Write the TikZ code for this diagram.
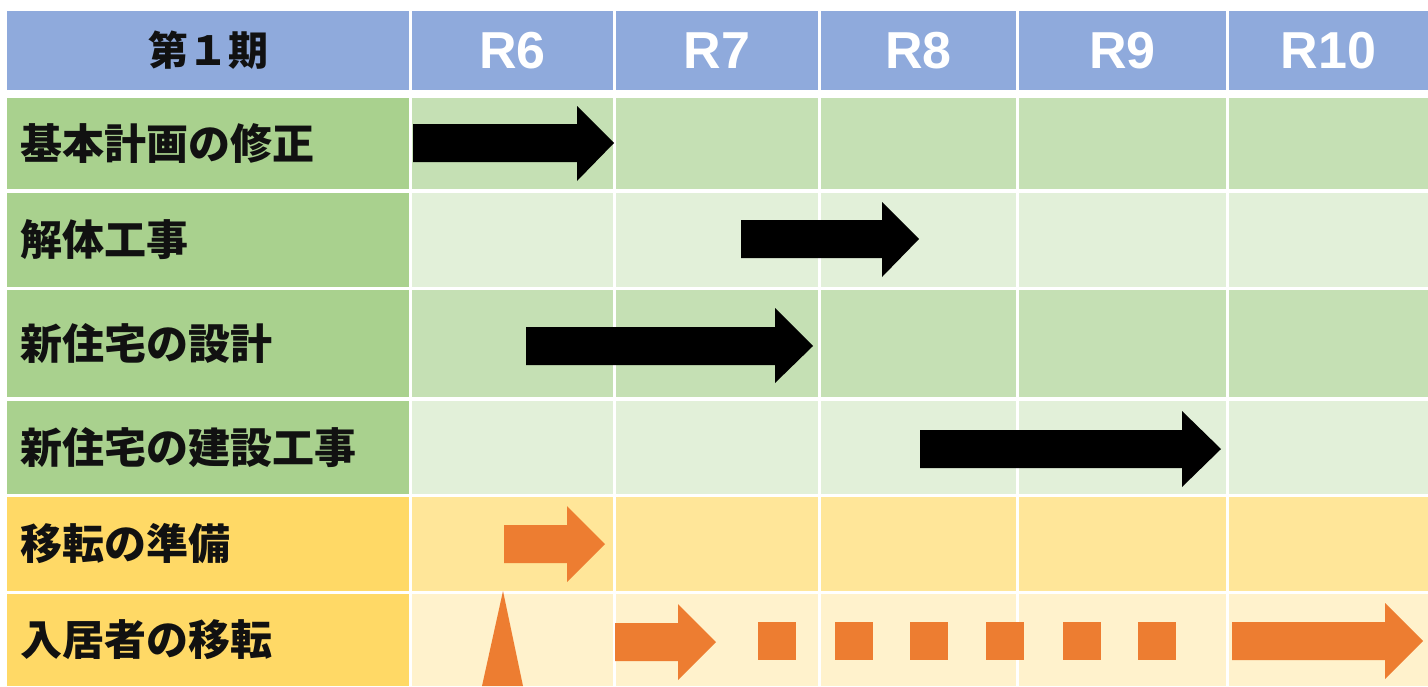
\documentclass[tikz,border=0pt]{standalone}
\usepackage{fontspec}
\setmainfont{Liberation Sans}
\newfontfamily\jp{Noto Sans CJK JP}
\definecolor{hdr}{HTML}{8FAADC}
\definecolor{lg}{HTML}{A9D18E}
\definecolor{gA}{HTML}{C5E0B4}
\definecolor{gB}{HTML}{E2F0D9}
\definecolor{ly}{HTML}{FFD966}
\definecolor{yA}{HTML}{FFE699}
\definecolor{yB}{HTML}{FFF2CC}
\definecolor{org}{HTML}{ED7D31}
\definecolor{txt}{HTML}{111111}
\tikzset{
  hdrtxt/.style={font=\jp\bfseries\fontsize{30pt}{36pt}\selectfont, text=txt, inner sep=0pt},
  yrtxt/.style={font=\bfseries\fontsize{39pt}{46pt}\selectfont, text=white, inner sep=0pt},
  lbltxt/.style={font=\jp\bfseries\fontsize{31.5pt}{38pt}\selectfont, text=txt, inner sep=0pt, anchor=west},
  blkarrow/.style={fill=black},
  orgshape/.style={fill=org}
}
\begin{document}
\begin{tikzpicture}[x=0.75pt,y=-0.75pt]
\useasboundingbox (0,0) rectangle (1428,686);
\fill[white] (0,0) rectangle (1428,686);
% header
\fill[hdr] (7,11) rectangle (409,90);
\foreach \l/\r in {412/613,616/818,821/1016,1019/1226,1229/1428}
  \fill[hdr] (\l,11) rectangle (\r,90);
% rows
\foreach \t/\b/\c/\lc in {98/189/gA/lg,193/287/gB/lg,290/397/gA/lg,401/494/gB/lg,497/591/yA/ly,594/686/yB/ly}{
  \fill[\lc] (7,\t) rectangle (409,\b);
  \foreach \l/\r in {412/613,616/818,821/1016,1019/1226,1229/1428}
    \fill[\c] (\l,\t) rectangle (\r,\b);
}
% header texts
\node[hdrtxt] (h0) at (208,50.5) {第１期};
\node[yrtxt] (h1) at (512.5,50.5) {R6};
\node[yrtxt] (h2) at (717,50.5) {R7};
\node[yrtxt] (h3) at (918.5,50.5) {R8};
\node[yrtxt] (h4) at (1122.5,50.5) {R9};
\node[yrtxt] (h5) at (1328.5,50.5) {R10};
% row labels
\node[lbltxt] (l1) at (20,143.5) {基本計画の修正};
\node[lbltxt] (l2) at (20,240) {解体工事};
\node[lbltxt] (l3) at (20,343.5) {新住宅の設計};
\node[lbltxt] (l4) at (20,447.5) {新住宅の建設工事};
\node[lbltxt] (l5) at (20,544) {移転の準備};
\node[lbltxt] (l6) at (20,640) {入居者の移転};
% black arrows
\fill[blkarrow] (413,124) -- (577,124) -- (577,106) -- (614,143) -- (577,181) -- (577,162) -- (413,162) -- cycle;
\fill[blkarrow] (741,220) -- (882,220) -- (882,202) -- (919,239) -- (882,277) -- (882,258) -- (741,258) -- cycle;
\fill[blkarrow] (526,327) -- (775,327) -- (775,308) -- (813,346) -- (775,383) -- (775,365) -- (526,365) -- cycle;
\fill[blkarrow] (920,430) -- (1182,430) -- (1182,411) -- (1221,449) -- (1182,487) -- (1182,468) -- (920,468) -- cycle;
% orange shapes
\fill[orgshape] (504,525) -- (567,525) -- (567,506) -- (605,544) -- (567,582) -- (567,563) -- (504,563) -- cycle;
\fill[orgshape] (615,623) -- (678,623) -- (678,604) -- (716,642) -- (678,680) -- (678,661) -- (615,661) -- cycle;
\fill[orgshape] (1232,622) -- (1385,622) -- (1385,603) -- (1423,641) -- (1385,679) -- (1385,660) -- (1232,660) -- cycle;
\fill[orgshape] (503,591) -- (523,686) -- (482,686) -- cycle;
\foreach \x in {758,834.5,910,986,1062.5,1138}
  \fill[orgshape] (\x,622) rectangle ++(38,38);
\end{tikzpicture}
\end{document}
